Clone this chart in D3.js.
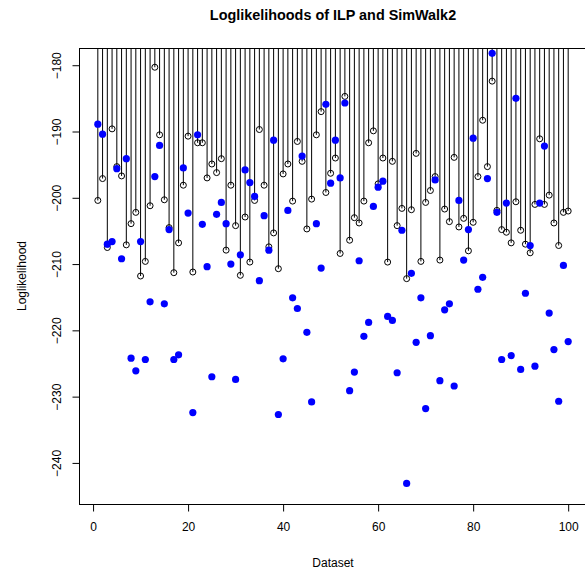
<!DOCTYPE html>
<head>
	<meta charset="utf-8">
	<title>Loglikelihoods of ILP and SimWalk2</title>
<style>
	body {
		margin:0;
		background-color: #ffffff;
		font-family: "Liberation Sans", Arial, Helvetica, sans-serif;
	}
	svg {
		display:block;
	}
	.axis text {
		font-size: 12px;
		font-family: "Liberation Sans", Arial, Helvetica, sans-serif;
		fill: #000000;
	}
	.axis line {
		stroke: #000000;
	}
</style>
</head>
<script src="https://cdn.jsdelivr.net/npm/d3@7"></script>

<body>
	<script>
		var width = 585;
		var height = 575;

		// dataset numbers 1..100
		var datasets = [1,2,3,4,5,6,7,8,9,10,11,12,13,14,15,16,17,18,19,20,
			21,22,23,24,25,26,27,28,29,30,31,32,33,34,35,36,37,38,39,40,
			41,42,43,44,45,46,47,48,49,50,51,52,53,54,55,56,57,58,59,60,
			61,62,63,64,65,66,67,68,69,70,71,72,73,74,75,76,77,78,79,80,
			81,82,83,84,85,86,87,88,89,90,91,92,93,94,95,96,97,98,99,100];

		// ILP loglikelihoods (open circles, drawn as spikes)
		var ilp = [-200.4,-197.1,-207.5,-189.6,-195.3,-196.7,-207.1,-203.9,-202.2,-211.8,
			-209.6,-201.2,-180.3,-190.5,-200.3,-204.5,-211.3,-206.8,-198.1,-190.7,
			-211.2,-191.7,-191.7,-197.0,-194.9,-196.2,-194.1,-207.9,-198.1,-204.2,
			-211.7,-202.9,-209.7,-200.4,-189.7,-198.1,-207.4,-205.3,-210.7,-196.4,
			-194.9,-200.5,-191.5,-194.5,-204.7,-200.2,-190.5,-187.0,-199.2,-196.3,
			-194.0,-208.4,-184.7,-206.4,-203.0,-203.8,-200.5,-191.7,-189.9,-197.9,
			-194.0,-209.7,-194.5,-204.2,-201.6,-212.2,-201.8,-193.3,-209.6,-200.7,
			-198.9,-196.8,-209.4,-201.7,-203.6,-193.9,-204.4,-203.1,-208.0,-203.7,
			-196.8,-188.3,-195.3,-182.4,-201.9,-204.8,-205.2,-206.8,-200.6,-204.9,
			-207.0,-208.3,-201.0,-191.1,-201.0,-199.6,-203.8,-207.2,-202.2,-202.0];

		// SimWalk2 loglikelihoods (blue dots)
		var simwalk = [-188.9,-190.4,-207.0,-206.6,-195.6,-209.2,-194.1,-224.2,-226.1,-206.6,
			-224.4,-215.7,-196.8,-192.1,-216.0,-204.8,-224.4,-223.7,-195.5,-202.3,
			-232.4,-190.5,-204.0,-210.4,-227.0,-202.5,-200.7,-203.9,-210.0,-227.4,
			-208.6,-195.8,-197.7,-199.8,-212.5,-202.7,-207.9,-191.3,-232.7,-224.3,
			-201.9,-215.1,-216.7,-193.7,-220.3,-230.8,-203.9,-210.6,-185.9,-197.8,
			-191.3,-197.0,-185.7,-229.1,-226.3,-209.5,-220.9,-218.8,-201.3,-198.4,
			-197.5,-217.9,-218.5,-226.4,-204.9,-243.1,-211.4,-221.8,-215.1,-231.8,
			-220.8,-197.3,-227.6,-216.9,-216.0,-228.4,-200.4,-209.4,-204.8,-191.0,
			-213.8,-212.0,-197.1,-178.2,-202.2,-224.4,-200.8,-223.8,-185.0,-225.9,
			-214.4,-207.2,-225.4,-200.8,-192.2,-217.4,-222.9,-230.7,-210.2,-221.7];

		var xTicks = [0, 20, 40, 60, 80, 100];
		var yTicks = [-240, -230, -220, -210, -200, -190, -180];

		// plot region edges, in pixels
		var pLeft = 79, pRight = 587, pTop = 48, pBottom = 504;

		var x = d3.scaleLinear()
			.domain([-2.96, 103.96])
			.range([pLeft, pRight]);

		var y = d3.scaleLinear()
			.domain([-246.2, -177.4])
			.range([pBottom, pTop]);

		var svg = d3.select("body").append("svg")
			.attr("width", width)
			.attr("height", height);

		svg.append("clipPath")
			.attr("id", "plotclip")
			.append("rect")
			.attr("x", pLeft)
			.attr("y", pTop)
			.attr("width", pRight - pLeft)
			.attr("height", pBottom - pTop);

		var plot = svg.append("g").attr("clip-path", "url(#plotclip)");

		// spikes from 0 down to the ILP value (type = "h"), clipped at the top
		plot.append("g").selectAll("line")
			.data(datasets)
			.enter().append("line")
			.attr("x1", function(d) {return x(d)})
			.attr("x2", function(d) {return x(d)})
			.attr("y1", Math.max(y(0), pTop))
			.attr("y2", function(d, i) {return y(ilp[i])})
			.style("stroke", "#000000")
			.style("stroke-width", 1);

		plot.append("g").selectAll("circle")
			.data(datasets)
			.enter().append("circle")
			.attr("cx", function(d) {return x(d)})
			.attr("cy", function(d, i) {return y(ilp[i])})
			.attr("r", 3)
			.style("fill", "none")
			.style("stroke", "#000000")
			.style("stroke-width", 1);

		plot.append("g").selectAll("circle")
			.data(datasets)
			.enter().append("circle")
			.attr("cx", function(d) {return x(d)})
			.attr("cy", function(d, i) {return y(simwalk[i])})
			.attr("r", 3.6)
			.style("fill", "#0000ff");

		// box (right side falls just outside the picture)
		svg.append("rect")
			.attr("x", pLeft + 0.5)
			.attr("y", pTop + 0.5)
			.attr("width", pRight - pLeft)
			.attr("height", pBottom - pTop)
			.style("fill", "none")
			.style("stroke", "#000000")
			.style("stroke-width", 1);

		var xAxis = svg.append("g")
			.attr("class", "axis")
			.attr("transform", "translate(0," + (pBottom + 0.5) + ")")
			.call(d3.axisBottom(x).tickValues(xTicks).tickSize(7).tickPadding(11).tickFormat(d3.format("d")));
		xAxis.select(".domain").remove();

		var yAxis = svg.append("g")
			.attr("class", "axis")
			.attr("transform", "translate(" + (pLeft + 0.5) + ",0)")
			.call(d3.axisLeft(y).tickValues(yTicks).tickSize(7).tickFormat(function(d) {return "\u2212" + Math.abs(d)}));
		yAxis.select(".domain").remove();
		yAxis.selectAll("text")
			.attr("transform", "translate(-19,0) rotate(-90)")
			.attr("x", 0)
			.attr("y", 0)
			.attr("dy", 0)
			.style("text-anchor", "middle");

		svg.append("text")
			.attr("x", (pLeft + pRight) / 2)
			.attr("y", 19.5)
			.style("text-anchor", "middle")
			.style("font-size", "14.4px")
			.style("font-weight", "bold")
			.text("Loglikelihoods of ILP and SimWalk2");

		svg.append("text")
			.attr("x", (pLeft + pRight) / 2)
			.attr("y", 567)
			.style("text-anchor", "middle")
			.style("font-size", "12px")
			.text("Dataset");

		svg.append("text")
			.attr("transform", "translate(26," + (pTop + pBottom) / 2 + ") rotate(-90)")
			.style("text-anchor", "middle")
			.style("font-size", "12px")
			.text("Loglikelihood");
	</script>
</body>
